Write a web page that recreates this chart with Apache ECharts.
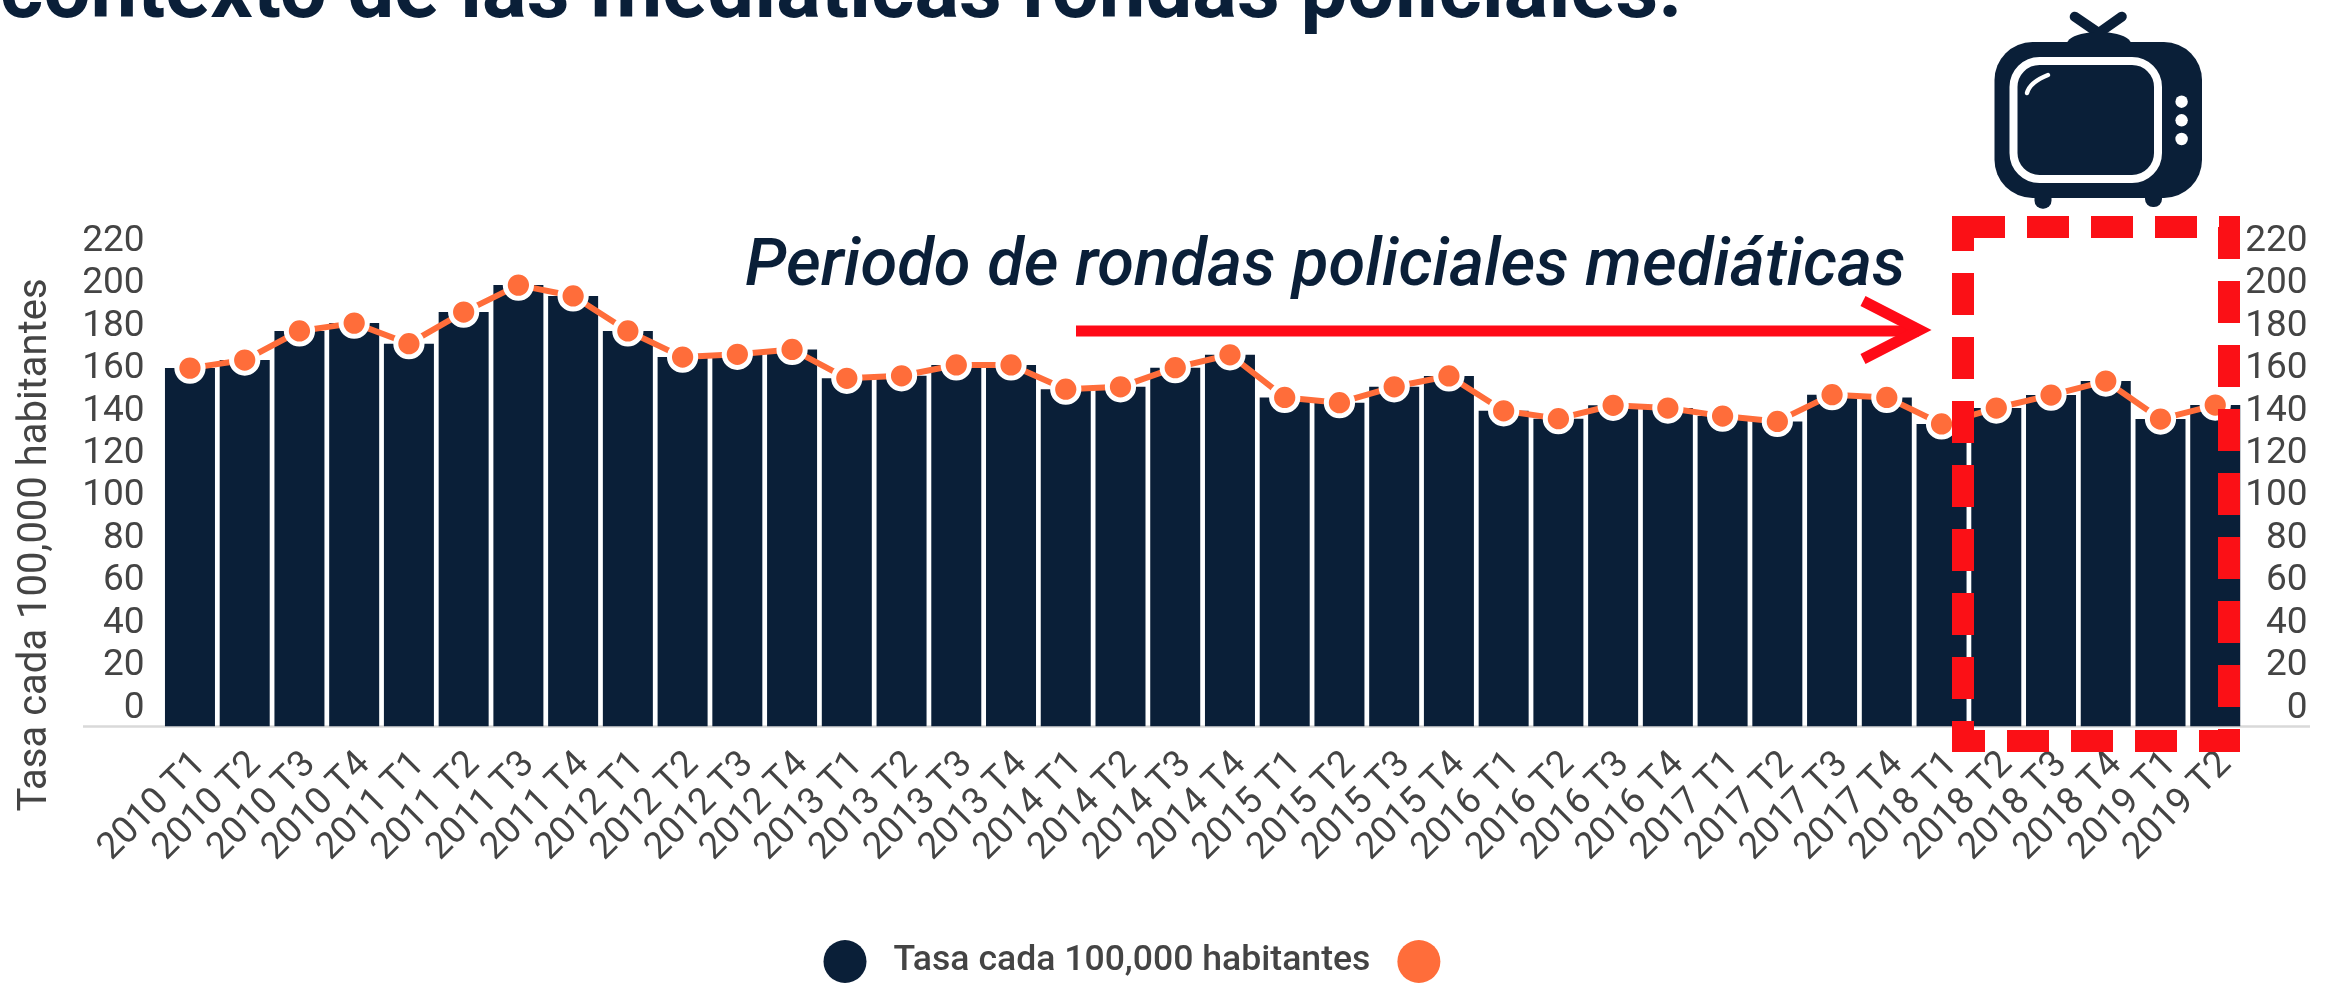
<!DOCTYPE html>
<html>
<head>
<meta charset="utf-8">
<title>Tasa cada 100,000 habitantes</title>
<script src="https://cdn.jsdelivr.net/npm/echarts@6/dist/echarts.min.js"></script>
<style>
html, body { margin: 0; padding: 0; background: #fff; }
#chart { width: 2335px; height: 983px; }
</style>
</head>
<body>
<div id="chart"></div>
<script>
var periodos = ['2010 T1','2010 T2','2010 T3','2010 T4','2011 T1','2011 T2','2011 T3','2011 T4',
	'2012 T1','2012 T2','2012 T3','2012 T4','2013 T1','2013 T2','2013 T3','2013 T4',
	'2014 T1','2014 T2','2014 T3','2014 T4','2015 T1','2015 T2','2015 T3','2015 T4',
	'2016 T1','2016 T2','2016 T3','2016 T4','2017 T1','2017 T2','2017 T3','2017 T4',
	'2018 T1','2018 T2','2018 T3','2018 T4','2019 T1','2019 T2'];
var tasa = [158.7,162.5,176.2,179.9,170.2,185.1,197.8,192.7,176.2,163.9,
	165.2,167.5,153.9,155.1,160.2,160.2,148.8,149.9,158.9,165,
	144.9,142.4,149.9,155,138.6,134.9,141.2,139.9,136.1,133.6,
	146.2,144.9,132.4,139.9,146,152.6,134.7,141.3];
var nombreSerie = 'Tasa cada 100,000 habitantes';
var titulo = 'contexto de las mediáticas rondas policiales.';
var anotacion = 'Periodo de rondas policiales mediáticas';

var navy = '#0A1F38';
var naranja = '#FF6D3A';
var rojo = '#FF0A17';
var gris = '#444444';

// en el original las barras bajan 10 unidades por debajo del 0 del eje
var relleno = periodos.map(function () { return -10; });

// las etiquetas solo cada 20, el eje arranca en -10
function etiquetaEje(v) {
	return (v % 20 === 0 && v >= 0) ? '{n|' + v + '}' : '';
}
var richEje = { n: { color: gris, fontFamily: 'Roboto', fontSize: 37, padding: [7, 0, 0, 0] } };

var chart = echarts.init(document.getElementById('chart'));

// televisor de arriba a la derecha
var tele = [
	{ type: 'line', shape: { x1: 2098.6, y1: 33, x2: 2074.7, y2: 16.7 }, style: { stroke: navy, lineWidth: 10, lineCap: 'round' } },
	{ type: 'line', shape: { x1: 2098.6, y1: 33, x2: 2121.8, y2: 16.7 }, style: { stroke: navy, lineWidth: 10, lineCap: 'round' } },
	{ type: 'ellipse', shape: { cx: 2099, cy: 44, rx: 32, ry: 12 }, style: { fill: navy } },
	{ type: 'rect', shape: { x: 2034.5, y: 185, width: 17, height: 23.7, r: 8 }, style: { fill: navy } },
	{ type: 'rect', shape: { x: 2145, y: 185, width: 17, height: 22, r: 8 }, style: { fill: navy } },
	{ type: 'rect', shape: { x: 1994.5, y: 42, width: 207.5, height: 156, r: 38 }, style: { fill: navy } },
	{ type: 'rect', shape: { x: 2013.5, y: 61, width: 144.5, height: 118, r: 26 }, style: { fill: navy, stroke: '#fff', lineWidth: 8 } },
	{ type: 'circle', shape: { cx: 2181.6, cy: 101.7, r: 6.2 }, style: { fill: '#fff' } },
	{ type: 'circle', shape: { cx: 2181.6, cy: 120.3, r: 6.2 }, style: { fill: '#fff' } },
	{ type: 'circle', shape: { cx: 2181.6, cy: 139, r: 6.2 }, style: { fill: '#fff' } },
	{ type: 'bezierCurve', shape: { x1: 2027, y1: 93, x2: 2048, y2: 75, cpx1: 2030, cpy1: 82 }, style: { stroke: '#fff', fill: null, lineWidth: 4.5, lineCap: 'round' } }
];

var graficos = [
	// linea base, sale mas alla de las barras
	{ type: 'line', z: 0, shape: { x1: 83, y1: 726.5, x2: 2310, y2: 726.5 }, style: { stroke: '#D9D9D9', lineWidth: 2.5 } },
	{ type: 'text', z: 5, x: 36, y: 545, rotation: Math.PI / 2,
		style: { text: nombreSerie, fill: gris, font: '40px Roboto', textAlign: 'center', textVerticalAlign: 'middle' } },
	{ type: 'text', z: 5, x: 745, y: 268,
		style: { text: anotacion, fill: navy, font: 'italic 500 67px Roboto', textAlign: 'left', textVerticalAlign: 'middle' } },
	// flecha
	{ type: 'line', z: 5, shape: { x1: 1076, y1: 331, x2: 1919, y2: 331 }, style: { stroke: rojo, lineWidth: 11 } },
	{ type: 'polyline', z: 5, shape: { points: [[1863, 301], [1919.5, 330], [1863, 359]] }, style: { stroke: rojo, fill: null, lineWidth: 11, lineJoin: 'miter' } },
	// recuadro punteado
	{ type: 'rect', z: 10, shape: { x: 1963, y: 227, width: 266, height: 514 }, style: { stroke: '#FB1016', fill: null, lineWidth: 22, lineDash: [42, 22] } },
	{ type: 'group', z: 5, children: tele }
];

var option = {
	animation: false,
	backgroundColor: '#fff',
	textStyle: { fontFamily: 'Roboto' },
	title: {
		text: titulo,
		left: 0,
		top: -45,
		padding: 0,
		textStyle: { color: navy, fontFamily: 'Roboto', fontWeight: 'bold', fontSize: 83.3 }
	},
	legend: {
		left: 823.5,
		top: 940,
		padding: 0,
		itemWidth: 43,
		itemHeight: 43,
		itemGap: 27,
		selectedMode: false,
		itemStyle: { borderWidth: 0 },
		textStyle: { color: gris, fontFamily: 'Roboto', fontWeight: 500, fontSize: 35.6, padding: [0, 0, 0, 22] },
		data: [{ name: nombreSerie, icon: 'circle' }, { name: ' ', icon: 'circle' }]
	},
	// alto elegido para que el 0 caiga en un pixel entero y no se vea la union de las barras
	grid: { left: 162.6, top: 238, width: 2080, height: 488.23 },
	xAxis: {
		type: 'category',
		data: periodos,
		axisLine: { show: false },
		axisTick: { show: false },
		axisLabel: { interval: 0, rotate: 45, margin: 22, verticalAlign: 'top', lineHeight: 30, color: gris, fontFamily: 'Roboto', fontSize: 37 }
	},
	yAxis: [
		{
			type: 'value', min: -10, max: 220, interval: 10,
			splitLine: { show: false }, axisLine: { show: false }, axisTick: { show: false },
			axisLabel: { formatter: etiquetaEje, rich: richEje, margin: 18 }
		},
		{
			type: 'value', position: 'right', min: -10, max: 220, interval: 10,
			splitLine: { show: false }, axisLine: { show: false }, axisTick: { show: false },
			axisLabel: { formatter: etiquetaEje, rich: richEje, margin: 65, align: 'right' }
		}
	],
	series: [
		{
			name: nombreSerie,
			type: 'bar',
			stack: 'barras',
			data: tasa,
			barWidth: 50,
			itemStyle: { color: navy }
		},
		{
			name: 'relleno',
			type: 'bar',
			stack: 'barras',
			data: relleno,
			barWidth: 50,
			itemStyle: { color: navy }
		},
		{
			name: ' ',
			type: 'line',
			data: tasa,
			symbol: 'circle',
			symbolSize: 26.25,
			showSymbol: true,
			lineStyle: { color: naranja, width: 6 },
			itemStyle: { color: naranja, borderColor: '#fff', borderWidth: 5 }
		}
	],
	graphic: graficos
};

chart.setOption(option);
</script>
</body>
</html>
